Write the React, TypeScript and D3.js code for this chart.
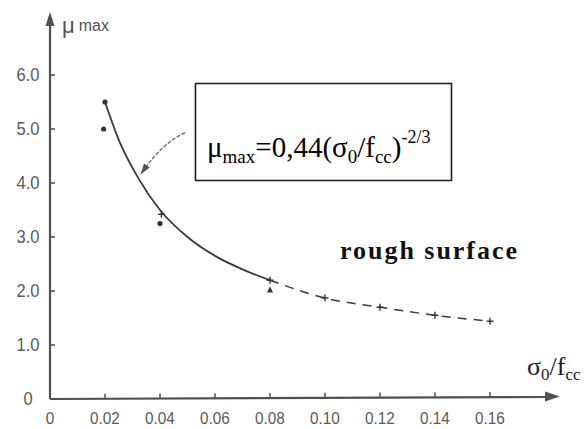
import React from "react";
import * as d3 from "d3";

const W = 588;
const H = 429;

// axis ticks
const xTicks = [0, 0.02, 0.04, 0.06, 0.08, 0.1, 0.12, 0.14, 0.16];
const xTickLabels = ["0", "0.02", "0.04", "0.06", "0.08", "0.10", "0.12", "0.14", "0.16"];
const yTicks = [0, 1, 2, 3, 4, 5, 6];
const yTickLabels = ["0", "1.0", "2.0", "3.0", "4.0", "5.0", "6.0"];

// fitted curve (solid part, then dashed part)
const curveSolidX = [0.02, 0.025, 0.032, 0.04, 0.05, 0.06, 0.07, 0.08];
const curveSolidY = [5.5, 4.8, 4.1, 3.5, 3.0, 2.65, 2.4, 2.2];
const curveDashX = [0.08, 0.1, 0.12, 0.14, 0.16];
const curveDashY = [2.2, 1.87, 1.7, 1.55, 1.44];

// measured points
const dotX = [0.02, 0.0195, 0.04];
const dotY = [5.5, 5.0, 3.25];
const plusX = [0.0405, 0.08, 0.1, 0.12, 0.14, 0.16];
const plusY = [3.42, 2.2, 1.87, 1.7, 1.55, 1.44];
const triX = [0.08];
const triY = [2.02];

// annotation arrow (data units): start, control, end
const arrowX = [0.0491, 0.041, 0.0335];
const arrowY = [4.93, 4.75, 4.2];

const x = d3.scaleLinear().domain([0, 0.16]).range([50, 490]);
const y = d3.scaleLinear().domain([0, 6]).range([399, 75]);

const AX = "#505050";

export default function App() {
  const line = d3
    .line<[number, number]>()
    .x((d) => x(d[0]))
    .y((d) => y(d[1]))
    .curve(d3.curveMonotoneX);
  const solid = line(curveSolidX.map((v, i) => [v, curveSolidY[i]]));
  const dashed = line(curveDashX.map((v, i) => [v, curveDashY[i]]));

  const a0 = [x(arrowX[0]), y(arrowY[0])];
  const a1 = [x(arrowX[1]), y(arrowY[1])];
  const a2 = [x(arrowX[2]), y(arrowY[2])];
  const arrowPath = `M${a0[0]},${a0[1]} Q${a1[0]},${a1[1]} ${a2[0]},${a2[1]}`;
  const ang = Math.atan2(a2[1] - a1[1], a2[0] - a1[0]);
  const ah = 9;
  const headPts = [
    [a2[0] + Math.cos(ang) * 3, a2[1] + Math.sin(ang) * 3],
    [a2[0] - Math.cos(ang - 0.4) * ah, a2[1] - Math.sin(ang - 0.4) * ah],
    [a2[0] - Math.cos(ang + 0.4) * ah, a2[1] - Math.sin(ang + 0.4) * ah],
  ]
    .map((p) => p.join(","))
    .join(" ");

  const x0 = x(0);
  const y0 = y(0);

  return (
    <svg width={W} height={H} style={{ position: "absolute", left: 0, top: 0, background: "#fff" }}>
      {/* axes */}
      <line x1={x0} y1={y0} x2={x0} y2={22} stroke={AX} strokeWidth={2.2} />
      <polygon points={`${x0},12 ${x0 - 4.5},26 ${x0 + 4.5},26`} fill={AX} />
      <line x1={x0} y1={y0} x2={548} y2={y0 - 2} stroke={AX} strokeWidth={2.2} />
      <polygon points={`560,${y0 - 2.5} 545,${y0 - 7.5} 545,${y0 + 2.5}`} fill={AX} />

      {/* y ticks */}
      {yTicks.map((t, i) => (
        <g key={"y" + i}>
          {t > 0 && <line x1={x0} x2={x0 + 5} y1={y(t)} y2={y(t)} stroke={AX} strokeWidth={1.5} />}
          <text
            x={28}
            y={y(t) + 6.5}
            textAnchor="middle"
            fontFamily="Liberation Sans, Arial, sans-serif"
            fontSize={18}
            fill="#5a5a5a"
            transform={`translate(28,0) scale(0.92,1) translate(-28,0)`}
          >
            {yTickLabels[i]}
          </text>
        </g>
      ))}

      {/* x ticks */}
      {xTicks.map((t, i) => (
        <g key={"x" + i}>
          {t > 0 && <line x1={x(t)} x2={x(t)} y1={y0 - (t / 0.16) * 2} y2={y0 - (t / 0.16) * 2 - 5} stroke={AX} strokeWidth={1.5} />}
          <text
            x={x(t)}
            y={424}
            textAnchor="middle"
            fontFamily="Liberation Sans, Arial, sans-serif"
            fontSize={17}
            fill="#5a5a5a"
            transform={`translate(${x(t)},0) scale(0.9,1) translate(${-x(t)},0)`}
          >
            {xTickLabels[i]}
          </text>
        </g>
      ))}

      {/* axis titles */}
      <text x={62} y={33} fontFamily="Liberation Sans, Arial, sans-serif" fill="#555">
        <tspan fontSize={22}>μ</tspan>
        <tspan fontSize={16} dx={4} dy={-2}>max</tspan>
      </text>
      <text x={527} y={375} fontFamily="Liberation Serif, Times New Roman, serif" fill="#1a1a2a" fontSize={26}>
        <tspan>σ</tspan>
        <tspan fontSize={17} dy={5}>0</tspan>
        <tspan fontSize={26} dy={-5}>/f</tspan>
        <tspan fontSize={17} dy={5}>cc</tspan>
      </text>

      {/* curve */}
      <path d={solid || ""} fill="none" stroke="#3a3a3a" strokeWidth={1.8} />
      <path d={dashed || ""} fill="none" stroke="#3a3a3a" strokeWidth={1.5} strokeDasharray="9 7" />

      {/* points */}
      {dotX.map((v, i) => (
        <circle key={"d" + i} cx={x(v)} cy={y(dotY[i])} r={2.6} fill="#333" />
      ))}
      {plusX.map((v, i) => (
        <g key={"p" + i} stroke="#333" strokeWidth={1.4}>
          <line x1={x(v) - 3.5} x2={x(v) + 3.5} y1={y(plusY[i])} y2={y(plusY[i])} />
          <line x1={x(v)} x2={x(v)} y1={y(plusY[i]) - 3.5} y2={y(plusY[i]) + 3.5} />
        </g>
      ))}
      {triX.map((v, i) => (
        <polygon
          key={"t" + i}
          points={`${x(v)},${y(triY[i]) - 3.5} ${x(v) - 3},${y(triY[i]) + 2.5} ${x(v) + 3},${y(triY[i]) + 2.5}`}
          fill="#333"
        />
      ))}

      {/* annotation arrow */}
      <path d={arrowPath} fill="none" stroke="#666" strokeWidth={1.3} strokeDasharray="4 1.5" />
      <polygon points={headPts} fill="#555" />

      {/* formula box */}
      <rect x={195.5} y={83.5} width={256} height={97} fill="#fff" stroke="#222" strokeWidth={1.6} />
      <text x={207} y={157} fontFamily="Liberation Serif, Times New Roman, serif" fill="#000" fontSize={29}>
        <tspan>μ</tspan>
        <tspan fontSize={19} dy={6}>max</tspan>
        <tspan fontSize={29} dy={-6}>=0,44(σ</tspan>
        <tspan fontSize={19} dy={6}>0</tspan>
        <tspan fontSize={29} dy={-6}>/f</tspan>
        <tspan fontSize={19} dy={6}>cc</tspan>
        <tspan fontSize={29} dy={-6}>)</tspan>
        <tspan fontSize={18} dy={-14}>-2/3</tspan>
      </text>

      {/* label */}
      <text
        x={340}
        y={259}
        fontFamily="Liberation Serif, Times New Roman, serif"
        fontWeight="bold"
        fontSize={26}
        fill="#111"
        textLength={177}
        lengthAdjust="spacing"
      >
        rough surface
      </text>
    </svg>
  );
}
